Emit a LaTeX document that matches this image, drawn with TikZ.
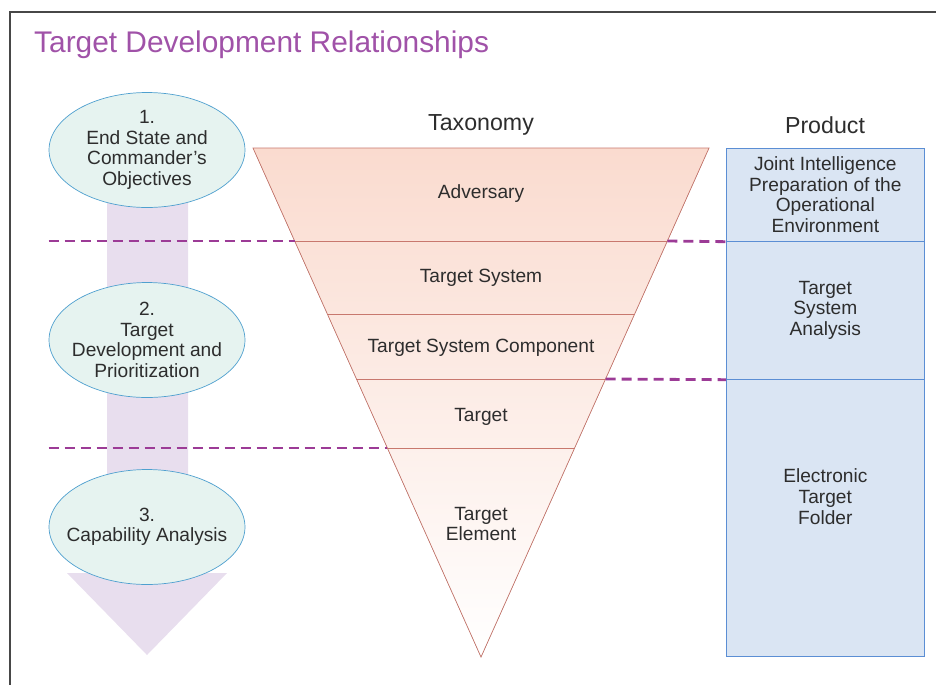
\documentclass[tikz,border=0pt]{standalone}
\usepackage{fontspec}
\setmainfont{Liberation Sans}
\usetikzlibrary{shapes.geometric,calc}
\definecolor{ttlpurple}{RGB}{160,82,168}
\definecolor{stagefill}{RGB}{230,243,240}
\definecolor{stageblue}{RGB}{79,160,207}
\definecolor{flowpurple}{RGB}{232,222,238}
\definecolor{divpurple}{RGB}{156,59,150}
\definecolor{taxfill}{RGB}{250,219,207}
\definecolor{taxline}{RGB}{200,120,110}
\definecolor{prodfill}{RGB}{218,229,243}
\definecolor{prodblue}{RGB}{91,142,212}
\definecolor{txt}{RGB}{45,45,45}
\begin{document}
\begin{tikzpicture}[x=0.02cm,y=-0.02cm,
  font=\fontsize{10.9}{11.7}\selectfont,text=txt,
  stage/.style={ellipse,draw=stageblue,fill=stagefill,minimum width=3.92cm,minimum height=2.3cm,inner sep=-0.5cm,align=center},
  prod/.style={draw=prodblue,fill=prodfill,minimum width=3.96cm,anchor=north west,align=center},
  head/.style={font=\fontsize{13.2}{15}\selectfont},
  divider/.style={divpurple,line width=1.6pt,dash pattern=on 0.2cm off 0.12cm}]
 \useasboundingbox (0,0) rectangle (936,684);
 \clip (0,0) rectangle (936,684);
 \draw[black!72,line width=1.1pt] (10,12) rectangle (960,720);
 \node[anchor=west,text=ttlpurple,font=\fontsize{17}{20}\selectfont] (title) at (28,45) {Target Development Relationships};
 % process arrow behind the stages
 \fill[flowpurple] (107,195) -- (188,195) -- (188,573) -- (227,573) -- (147,655) -- (67,573) -- (107,573) -- cycle;
 \node[stage] (s1) at (147,150) {1.\\End State and\\Commander's\\Objectives};
 \node[stage] (s2) at (147,340) {2.\\Target\\Development and\\Prioritization};
 \node[stage] (s3) at (147,527) {3.\\Capability Analysis};
 % taxonomy
 \coordinate (tl) at (253,148);
 \coordinate (tr) at (709,148);
 \coordinate (tip) at (481,657);
 \fill[top color=taxfill,middle color=taxfill!55,bottom color=white] (tl) -- (tr) -- (tip) -- cycle;
 \foreach \y in {241,314,379,448}
 \draw[taxline] ($(tl)!{(\y-148)/509}!(tip)$) coordinate (l\y) -- ($(tr)!{(\y-148)/509}!(tip)$) coordinate (r\y);
 \draw[taxline] (tl) -- (tr) -- (tip) -- cycle;
 \node[head] (tax) at (481,125) {Taxonomy};
 \node (t1) at (481,194) {Adversary};
 \node (t2) at (481,278) {Target System};
 \node (t3) at (481,348) {Target System Component};
 \node (t4) at (481,417) {Target};
 \node[align=center] (t5) at (481,524) {Target\\Element};
 % products
 \node[head] (prd) at (825,125) {Product};
 \node[prod,minimum height=1.86cm] (p1) at (726,148) {Joint Intelligence\\Preparation of the\\Operational\\Environment};
 \node[prod,minimum height=2.76cm] (p2) at (726,241) {Target\\System\\Analysis};
 \node[prod,minimum height=5.54cm,text depth=0.85cm] (p3) at (726,379) {Electronic\\Target\\Folder};
 % dividers
 \draw[divider] (s1.west |- l241) -- (l241);
 \draw[divider] (r241) -- (p1.south west);
 \draw[divider] (r379) -- (p2.south west);
 \draw[divider] (s1.west |- l448) -- (l448);
\end{tikzpicture}
\end{document}
